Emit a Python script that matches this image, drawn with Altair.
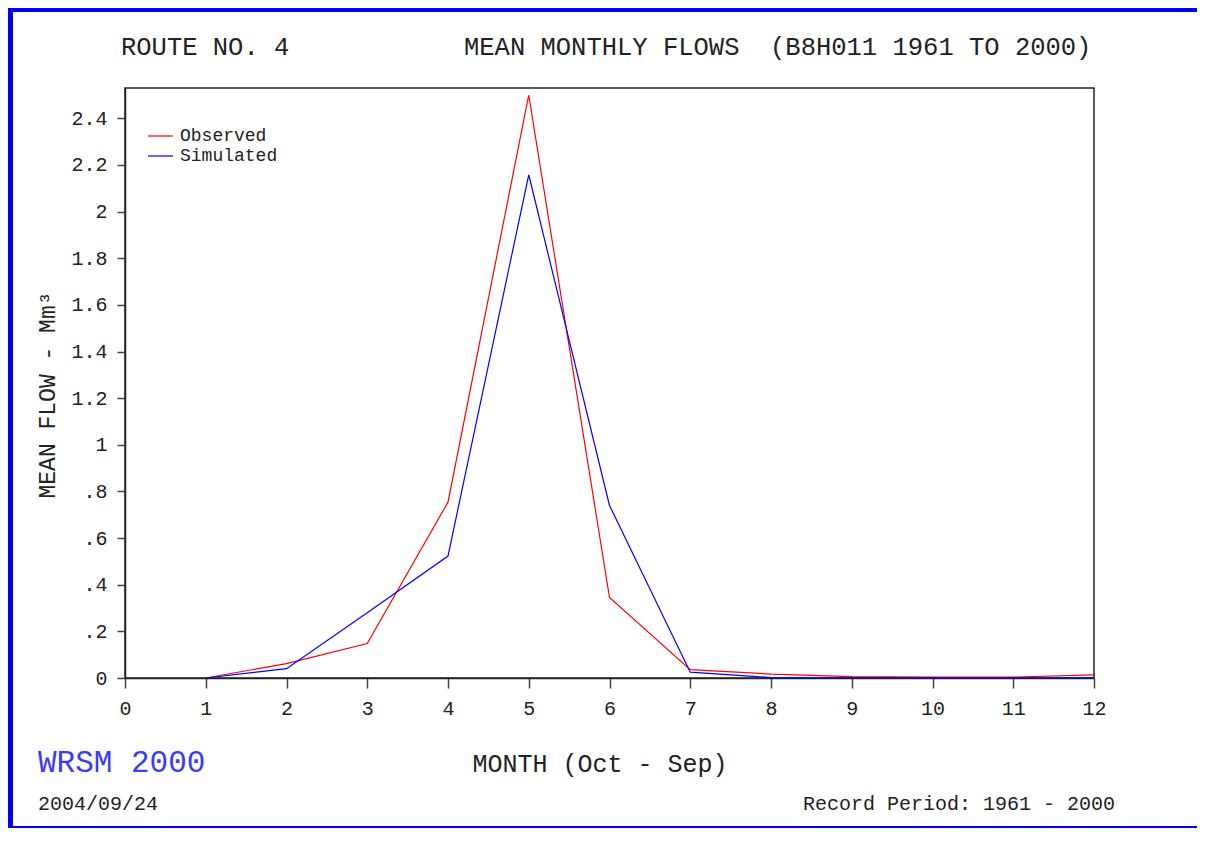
import altair as alt
import pandas as pd

months = [1, 2, 3, 4, 5, 6, 7, 8, 9, 10, 11, 12]
observed = [0.0, 0.062, 0.148, 0.754, 2.50, 0.345, 0.036, 0.017, 0.006, 0.004, 0.004, 0.013]
simulated = [0.0, 0.040, 0.280, 0.523, 2.158, 0.740, 0.025, 0.002, 0.001, 0.001, 0.001, 0.001]
series_names = ["Observed", "Simulated"]
series_colors = ["#ff0000", "#0000ff"]
x_ticks = [0, 1, 2, 3, 4, 5, 6, 7, 8, 9, 10, 11, 12]
y_ticks = [0, 0.2, 0.4, 0.6, 0.8, 1.0, 1.2, 1.4, 1.6, 1.8, 2.0, 2.2, 2.4]

FONT = "Liberation Mono"
W, H = 969, 590

rows = []
for name, vals in zip(series_names, [observed, simulated]):
    for m, v in zip(months, vals):
        rows.append({"month": m, "flow": v, "series": name})
df = pd.DataFrame(rows)

x_scale = alt.Scale(domain=[0, 12], nice=False, zero=False)
y_scale = alt.Scale(domain=[0, 2.53], nice=False)

lines = alt.Chart(df).mark_line(strokeWidth=1.2).encode(
    x=alt.X("month:Q", scale=x_scale,
            axis=alt.Axis(values=x_ticks, title=None, grid=False, labelFont=FONT,
                          labelFontSize=20, labelColor="#222", tickSize=10,
                          tickColor="#444", domainColor="#222", labelPadding=10,
                          labelFlush=False)),
    y=alt.Y("flow:Q", scale=y_scale,
            axis=alt.Axis(values=y_ticks, title=None, grid=False, labelFont=FONT,
                          labelFontSize=20, labelColor="#222", tickSize=8,
                          tickColor="#444", domainColor="#222", labelPadding=10,
                          labelFlush=False,
                          labelExpr="datum.value > 0 && datum.value < 1 ? slice(format(datum.value, '.1f'), 1) : format(datum.value, '.1~f')")),
    color=alt.Color("series:N", scale=alt.Scale(domain=series_names, range=series_colors), legend=None),
    order=alt.Order("month:Q"),
)

one = pd.DataFrame({"a": [0]})

def label(txt, x, y, size, color="#222", align="left", angle=None):
    kw = dict(font=FONT, fontSize=size, align=align, baseline="middle", color=color, text=txt)
    if angle is not None:
        kw["angle"] = angle
    return alt.Chart(one).mark_text(**kw).encode(x=alt.value(x), y=alt.value(y))

def rule(x, x2, y, y2, w, color):
    return alt.Chart(one).mark_rule(color=color, strokeWidth=w).encode(
        x=alt.value(x), x2=alt.value(x2), y=alt.value(y), y2=alt.value(y2))

# legend (manual, top-left inside plot)
legend = []
for i, (name, col) in enumerate(zip(series_names, series_colors)):
    yy = 48 + 20 * i
    legend.append(rule(23, 48, yy, yy, 1.2, col))
    legend.append(label(name, 55, yy, 18))

NB = "\u00a0"
texts = [
    label("ROUTE NO. 4", -4, -41, 25.5),
    label("MEAN MONTHLY FLOWS" + NB + NB + "(B8H011 1961 TO 2000)", 339, -41, 25.5),
    label("MEAN FLOW - Mm³", -77, 307, 23, align="center", angle=270),
    label("MONTH (Oct - Sep)", 475, 676, 25, align="center"),
    label("WRSM 2000", -87, 675, 31, color="#3a3aff"),
    label("2004/09/24", -87, 716, 20),
    label("Record Period: 1961 - 2000", 678, 716, 20),
]

# blue page border
borders = [
    rule(-117, 1072, -78.5, -78.5, 5, "#0000ff"),     # top
    rule(-114.5, -114.5, -80, 740, 5, "#0000ff"),     # left
    rule(-117, 1072, 739, 739, 2, "#0000ff"),         # bottom
]

chart = alt.layer(lines, *legend, *texts, *borders).properties(
    width=W, height=H,
    padding={"left": 117, "top": 80, "right": 103, "bottom": 151},
    autosize=alt.AutoSizeParams(type="none"),
    background="white",
).configure_view(stroke="#222", strokeWidth=1.5).configure_axis(domainWidth=1.5, tickWidth=1.5)

chart.save("out.html", embed_options={"renderer": "svg", "actions": False})
